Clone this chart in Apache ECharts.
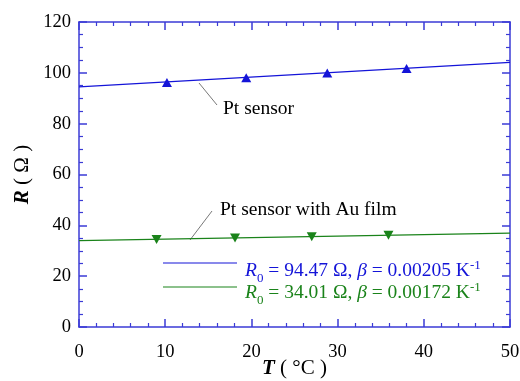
<!DOCTYPE html>
<html><head><meta charset="utf-8">
<script src="https://cdn.jsdelivr.net/npm/echarts@6/dist/echarts.min.js"></script>
<style>html,body{margin:0;padding:0;background:#fff}#c{width:520px;height:381px}</style>
</head><body><div id="c"></div>
<script>
// Data
const ptT = [10.2, 19.4, 28.8, 38.0];
const ptR = [96.2, 98.1, 99.9, 101.7];
const auT = [9.0, 18.1, 27.0, 35.9];
const auR = [34.4, 35.0, 35.5, 36.1];
// fitted lines (end points at T = 0 and T = 50)
const fitT = [0, 50];
const ptFitR = [94.47, 104.15];
const auFitR = [34.01, 36.93];
const xTicks = [0, 10, 20, 30, 40, 50];
const yTicks = [0, 20, 40, 60, 80, 100, 120];

const AX = '#3b3bd6';
const BLUE = '#1414d8';
const GREEN = '#1a831a';
const FONT = '"Liberation Serif", "DejaVu Serif", serif';

const zip = (a, b) => a.map((v, i) => [v, b[i]]);

const chart = echarts.init(document.getElementById('c'), null, {renderer: 'canvas'});
const axisBase = (show, margin) => ({
  axisLine: {show: true, onZero: false, lineStyle: {color: AX, width: 1.5}},
  axisTick: {show: true, inside: true, length: 8, lineStyle: {color: AX, width: 1.5}},
  splitLine: {show: false},
  axisLabel: {show: show, color: '#000', fontFamily: FONT, fontSize: 18.5, margin: margin || 8}
});
const minor = (n) => ({minorTick: {show: true, splitNumber: n, length: 4, lineStyle: {color: AX, width: 1.2}}});
const titleStyle = {fontFamily: FONT, fontSize: 21, color: '#000',
  rich: {b: {fontFamily: FONT, fontSize: 21, fontWeight: 'bold', fontStyle: 'italic', color: '#000'}}};
chart.setOption({
  animation: false,
  grid: {left: 79, right: 10, top: 22, bottom: 54, containLabel: false, outerBoundsMode: 'none'},
  xAxis: [
    Object.assign({type: 'value', min: 0, max: 50, interval: 10, position: 'bottom',
      name: '{b|T} ( °C )', nameLocation: 'middle', nameGap: 31, nameMoveOverlap: false, nameTextStyle: titleStyle},
      axisBase(true, 16), minor(5)),
    Object.assign({type: 'value', min: 0, max: 50, interval: 10, position: 'top'}, axisBase(false), minor(5))
  ],
  yAxis: [
    Object.assign({type: 'value', min: 0, max: 120, interval: 20, position: 'left',
      name: '{b|R} ( Ω )', nameLocation: 'middle', nameGap: 46, nameMoveOverlap: false, nameTextStyle: titleStyle},
      axisBase(true, 8), minor(4)),
    Object.assign({type: 'value', min: 0, max: 120, interval: 20, position: 'right'}, axisBase(false), minor(4))
  ],
  series: [
    {type: 'line', data: zip(fitT, ptFitR), showSymbol: false, symbol: 'none',
      lineStyle: {color: BLUE, width: 1.3}, z: 2, silent: true},
    {type: 'line', data: zip(fitT, auFitR), showSymbol: false, symbol: 'none',
      lineStyle: {color: GREEN, width: 1.3}, z: 2, silent: true},
    {type: 'scatter', data: zip(ptT, ptR), symbol: 'triangle', symbolSize: [10, 9],
      itemStyle: {color: BLUE, opacity: 1}, z: 3},
    {type: 'scatter', data: zip(auT, auR), symbol: 'triangle', symbolRotate: 180, symbolSize: [10, 9],
      itemStyle: {color: GREEN, opacity: 1}, z: 3}
  ],
  graphic: [
    {type: 'line', shape: {x1: 199, y1: 83, x2: 217, y2: 105}, style: {stroke: '#555', lineWidth: 0.8}},
    {type: 'text', x: 223, y: 109, style: {text: 'Pt sensor', font: '19.5px ' + FONT, fill: '#000', verticalAlign: 'middle'}},
    {type: 'line', shape: {x1: 212, y1: 211, x2: 190, y2: 240}, style: {stroke: '#555', lineWidth: 0.8}},
    {type: 'text', x: 220, y: 210, style: {text: 'Pt sensor with Au film', font: '19.5px ' + FONT, fill: '#000', verticalAlign: 'middle'}},
    {type: 'line', shape: {x1: 163, y1: 263, x2: 237, y2: 263}, style: {stroke: BLUE, lineWidth: 1.2}},
    {type: 'line', shape: {x1: 163, y1: 287, x2: 237, y2: 287}, style: {stroke: GREEN, lineWidth: 1.2}},
    {type: 'text', x: 245, y: 256, style: {
      text: '{i|R}{s|0} = 94.47 Ω, {i|β} = 0.00205 K{p|-1}',
      font: '19.5px ' + FONT, fill: BLUE,
      rich: {
        i: {fontFamily: FONT, fontSize: 19.5, fontStyle: 'italic', fill: BLUE, color: BLUE},
        s: {fontFamily: FONT, fontSize: 13, fill: BLUE, color: BLUE, padding: [16, 0, 0, 0]},
        p: {fontFamily: FONT, fontSize: 13, fill: BLUE, color: BLUE, padding: [0, 0, 9, 0]}
      }}},
    {type: 'text', x: 245, y: 278, style: {
      text: '{i|R}{s|0} = 34.01 Ω, {i|β} = 0.00172 K{p|-1}',
      font: '19.5px ' + FONT, fill: GREEN,
      rich: {
        i: {fontFamily: FONT, fontSize: 19.5, fontStyle: 'italic', fill: GREEN, color: GREEN},
        s: {fontFamily: FONT, fontSize: 13, fill: GREEN, color: GREEN, padding: [16, 0, 0, 0]},
        p: {fontFamily: FONT, fontSize: 13, fill: GREEN, color: GREEN, padding: [0, 0, 9, 0]}
      }}}
  ]
});
</script></body></html>
